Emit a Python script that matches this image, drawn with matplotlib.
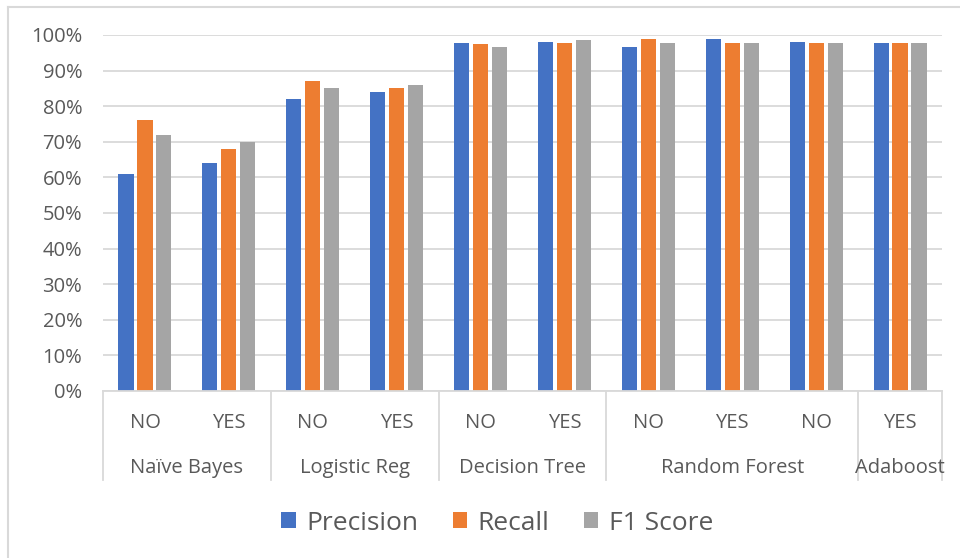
import matplotlib
matplotlib.use("Agg")
import matplotlib.pyplot as plt
import matplotlib.transforms as mtransforms
from matplotlib.lines import Line2D
from matplotlib.ticker import PercentFormatter, MultipleLocator
from matplotlib.patches import Patch
import numpy as np

# Data
classes = ["NO", "YES", "NO", "YES", "NO", "YES", "NO", "YES", "NO", "YES"]
models = ["Naïve Bayes", "Logistic Reg", "Decision Tree", "Random Forest", "Adaboost"]
model_sizes = [2, 2, 2, 3, 1]
precision = [0.61, 0.64, 0.82, 0.84, 0.978, 0.981, 0.967, 0.988, 0.981, 0.978]
recall    = [0.76, 0.68, 0.871, 0.85, 0.975, 0.978, 0.988, 0.978, 0.978, 0.978]
f1_score  = [0.72, 0.70, 0.85, 0.86, 0.967, 0.985, 0.978, 0.978, 0.978, 0.978]

series = [("Precision", precision, "#4472C4"),
          ("Recall", recall, "#ED7D31"),
          ("F1 Score", f1_score, "#A5A5A5")]

TEXT = "#595959"
GRID = "#D9D9D9"
FONT = ["Open Sans", "DejaVu Sans"]
plt.rcParams["font.family"] = FONT

W, H = 960, 558
fig = plt.figure(figsize=(W / 100, H / 100), dpi=100)

# axes placement in pixels
x0, x1 = 103, 942
y_top, y_bot = 35, 391
ax = fig.add_axes([x0 / W, 1 - y_bot / H, (x1 - x0) / W, (y_bot - y_top) / H])

n = len(classes)
x = np.arange(n)
bar_w = 0.18
step = 0.226
for i, (name, vals, col) in enumerate(series):
    ax.bar(x + (i - 1) * step, vals, width=bar_w, color=col, label=name, zorder=3)

ax.set_xlim(-0.5, n - 0.5)
ax.set_ylim(0, 1.0)
ax.yaxis.set_major_locator(MultipleLocator(0.1))
ax.yaxis.set_major_formatter(PercentFormatter(1.0, decimals=0))
ax.grid(axis="y", color=GRID, linewidth=1.3, zorder=0)
ax.set_axisbelow(True)
for s in ["top", "right", "left"]:
    ax.spines[s].set_visible(False)
ax.spines["bottom"].set_color(GRID)
ax.spines["bottom"].set_linewidth(1.3)
ax.spines["bottom"].set_zorder(4)
ax.tick_params(axis="y", length=0, pad=15, labelsize=14.5, labelcolor=TEXT)
ax.set_xticks([])

trans = mtransforms.blended_transform_factory(ax.transData, ax.transAxes)
px = 1.0 / (y_bot - y_top)

# class labels
for xi, lab in zip(x, classes):
    ax.text(xi, -(423 - y_bot) * px, lab, transform=trans, ha="center",
            va="center", fontsize=14.5, color=TEXT)

# model labels and separators
bounds = np.concatenate([[0], np.cumsum(model_sizes)]) - 0.5
for name, a, b in zip(models, bounds[:-1], bounds[1:]):
    ax.text((a + b) / 2, -(468 - y_bot) * px, name, transform=trans,
            ha="center", va="center", fontsize=14.5, color=TEXT)
for b in bounds:
    ax.add_line(Line2D([b, b], [0, -(480 - y_bot) * px], transform=trans,
                       color=GRID, linewidth=1.3, clip_on=False))

# legend
handles = [Patch(facecolor=c, label=nm) for nm, _, c in series]
fig.legend(handles=handles, loc="center", bbox_to_anchor=(0.518, 1 - 523 / H),
           ncol=3, frameon=False, fontsize=19, labelcolor=TEXT,
           handlelength=0.55, handleheight=0.55, handletextpad=0.4,
           columnspacing=1.3)

# chart area border (top and left edges)
fig.add_artist(Line2D([8 / W, 1], [1 - 7 / H, 1 - 7 / H], transform=fig.transFigure,
                      color=GRID, linewidth=1.5))
fig.add_artist(Line2D([8 / W, 8 / W], [0, 1 - 7 / H], transform=fig.transFigure,
                      color=GRID, linewidth=1.5))

fig.savefig("out.png", dpi=100, facecolor="white")
